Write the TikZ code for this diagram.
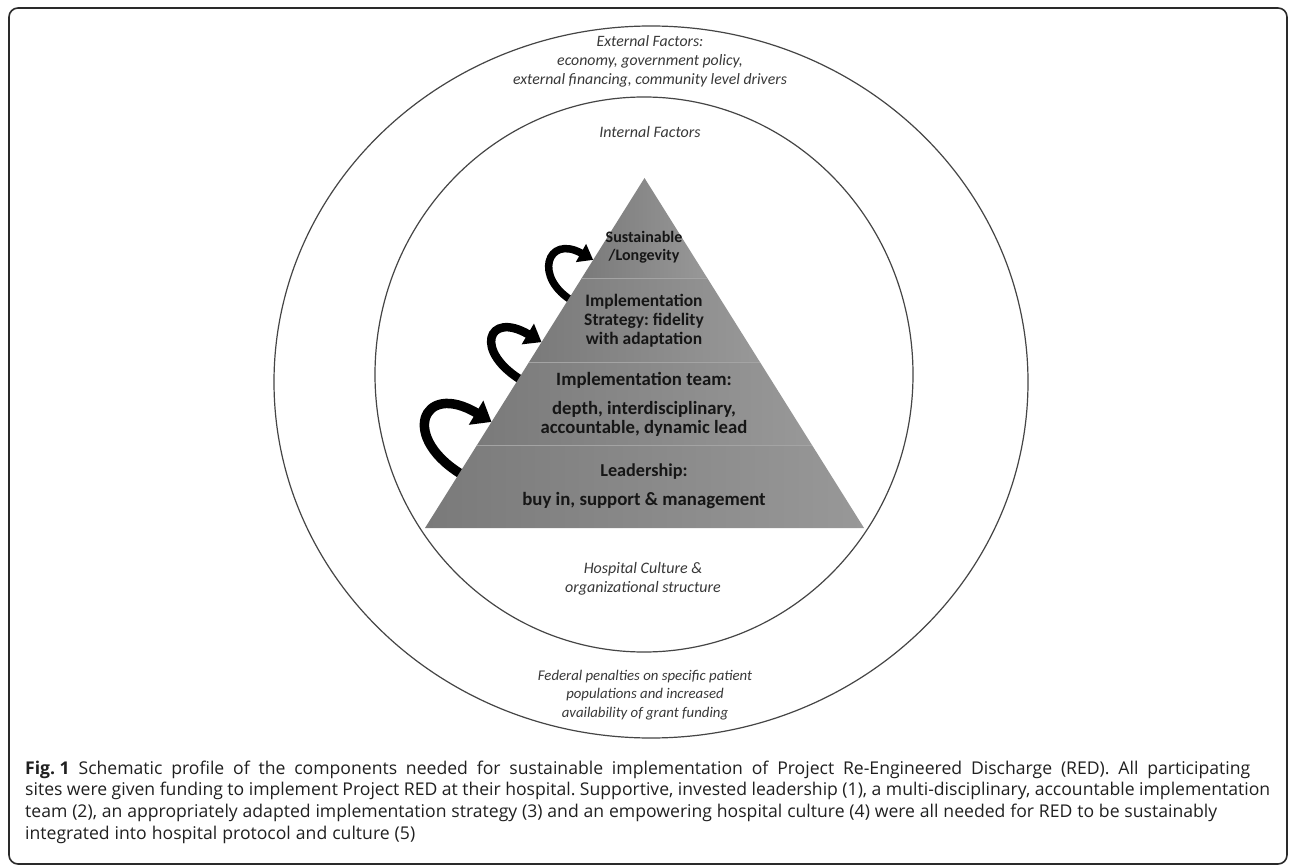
\documentclass[tikz,border=0pt]{standalone}
\usepackage{fontspec}
\setmainfont{Carlito}
\newfontfamily\capfont{Open Sans}
\usetikzlibrary{arrows.meta,calc}
\definecolor{frame}{HTML}{2A2A2A}
\definecolor{ringc}{HTML}{454545}
\definecolor{txtc}{HTML}{161616}
\definecolor{itc}{HTML}{383838}
\definecolor{capc}{HTML}{202020}
\definecolor{bandL}{HTML}{7A7A7A}
\definecolor{bandR}{HTML}{989898}
\definecolor{sepc}{HTML}{A4A4A4}
\tikzset{
  ringline/.style={draw=ringc, line width=1.2pt},
  band/.style={left color=bandL, right color=bandR},
  sepline/.style={draw=sepc, line width=0.8pt},
  pyrtext/.style 2 args={text=txtc, align=center, inner sep=0pt, font=\bfseries\fontsize{#1}{#2}\selectfont},
  ittext/.style 2 args={text=itc, align=center, inner sep=0pt, font=\itshape\fontsize{#1}{#2}\selectfont},
  curvarrow/.style n args={3}{draw=black, line width=#1, -{Triangle[width=#2, length=#3]}},
}
\begin{document}
\frenchspacing
\begin{tikzpicture}[x=1pt,y=-1pt]
\useasboundingbox (0,0) rectangle (1290,866);
\fill[white] (0,0) rectangle (1290,866);
\draw[draw=frame, line width=1.6pt, rounded corners=9pt] (9,8) rectangle (1287,864);

% rings
\draw[ringline] (651,382) ellipse [x radius=377, y radius=356];
\draw[ringline] (644,374.5) ellipse [x radius=269, y radius=277.5];

% pyramid corners
\coordinate (apex) at (644.5,178);
\coordinate (bl) at (425,528);
\coordinate (br) at (864,528);

% edge points for arrows
\coordinate (a1s) at ($(apex)!0.84!(bl)$);
\coordinate (a1e) at ($(apex)!0.697!(bl)$);
\coordinate (a2s) at ($(apex)!0.571!(bl)$);
\coordinate (a2e) at ($(apex)!0.469!(bl)$);
\coordinate (a3s) at ($(apex)!0.343!(bl)$);
\coordinate (a3e) at ($(apex)!0.234!(bl)$);

% curved arrows
\draw[curvarrow={9.5pt}{27pt}{18pt}] ($(a1s)+(6,5)$) .. controls +(-68,-38) and +(-70,-42) .. (a1e);
\draw[curvarrow={8.5pt}{23pt}{16pt}] ($(a2s)+(5,4)$) .. controls +(-52,-30) and +(-54,-32) .. (a2e);
\draw[curvarrow={7.5pt}{20pt}{14pt}] ($(a3s)+(5,4)$) .. controls +(-42,-24) and +(-46,-26) .. (a3e);

% pyramid bands
\shade[band] (apex) -- ($(apex)!0.2857!(br)$) -- ($(apex)!0.2857!(bl)$) -- cycle;
\shade[band] ($(apex)!0.2857!(bl)$) -- ($(apex)!0.2857!(br)$) -- ($(apex)!0.5257!(br)$) -- ($(apex)!0.5257!(bl)$) -- cycle;
\shade[band] ($(apex)!0.5257!(bl)$) -- ($(apex)!0.5257!(br)$) -- ($(apex)!0.7629!(br)$) -- ($(apex)!0.7629!(bl)$) -- cycle;
\shade[band] ($(apex)!0.7629!(bl)$) -- ($(apex)!0.7629!(br)$) -- (br) -- (bl) -- cycle;
\draw[sepline] ($(apex)!0.2857!(bl)$) -- ($(apex)!0.2857!(br)$);
\draw[sepline] ($(apex)!0.5257!(bl)$) -- ($(apex)!0.5257!(br)$);
\draw[sepline] ($(apex)!0.7629!(bl)$) -- ($(apex)!0.7629!(br)$);

% pyramid text
\node[pyrtext={16}{18}] (sust) at (644,247) {Sustainable\\/Longevity};
\node[pyrtext={17.5}{19}] (strat) at (644,321) {Implementation\\Strategy: fidelity\\with adaptation};
\node[pyrtext={18.8}{19}] (teamt) at (644,380) {Implementation team:};
\node[pyrtext={18.7}{18.5}] (teamd) at (644,419) {depth, interdisciplinary,\\accountable, dynamic lead};
\node[pyrtext={18.2}{20}] (lead) at (644,472) {Leadership:};
\node[pyrtext={18.8}{20}] (leadd) at (644,500) {buy in, support \& management};

% italic labels
\node[ittext={15.8}{19}] (ext) at (650,61) {External Factors:\\economy, government policy,\\external financing, community level drivers};
\node[ittext={16}{19}] (int) at (650,132) {Internal Factors};
\node[ittext={16}{19}] (hosp) at (643,579) {Hospital Culture \&\\organizational structure};
\node[ittext={14.8}{18.5}] (fed) at (645,695) {Federal penalties on specific patient\\populations and increased\\availability of grant funding};

% caption
\node[anchor=north west, align=left, inner sep=0pt, text=capc, font=\capfont\fontsize{17.6}{21.7}\selectfont] (cap) at (25,760.5)
{\hbox to 1225pt{\mbox{\textbf{Fig. 1}} Schematic profile of the components needed for sustainable implementation of Project Re-Engineered Discharge (RED). All participating}\\
\hbox to 1245pt{sites were given funding to implement Project RED at their hospital. Supportive, invested leadership (1), a multi-disciplinary, accountable implementation}\\
\hbox to 1192pt{team (2), an appropriately adapted implementation strategy (3) and an empowering hospital culture (4) were all needed for RED to be sustainably}\\
\hbox to 390pt{integrated into hospital protocol and culture (5)}};
\end{tikzpicture}
\end{document}
